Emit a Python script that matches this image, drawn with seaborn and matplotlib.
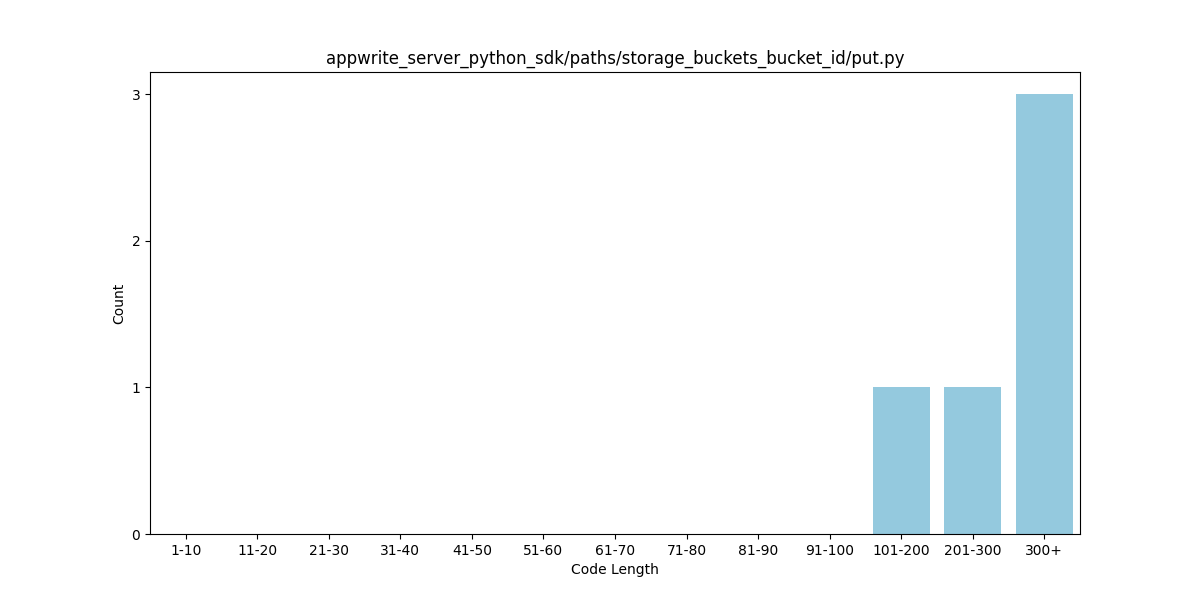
import matplotlib
matplotlib.use("Agg")
import matplotlib.pyplot as plt
import seaborn as sns
import pandas as pd
from matplotlib.ticker import MaxNLocator

categories = ["1-10", "11-20", "21-30", "31-40", "41-50", "51-60", "61-70",
              "71-80", "81-90", "91-100", "101-200", "201-300", "300+"]
counts = [0, 0, 0, 0, 0, 0, 0, 0, 0, 0, 1, 1, 3]

df = pd.DataFrame({"Code Length": categories, "Count": counts})

fig, ax = plt.subplots(figsize=(12, 6), dpi=100)
sns.barplot(data=df, x="Code Length", y="Count", color="skyblue", ax=ax)
ax.set_title("appwrite_server_python_sdk/paths/storage_buckets_bucket_id/put.py")
ax.set_xlabel("Code Length")
ax.set_ylabel("Count")
ax.yaxis.set_major_locator(MaxNLocator(integer=True))
fig.savefig("out.png")
